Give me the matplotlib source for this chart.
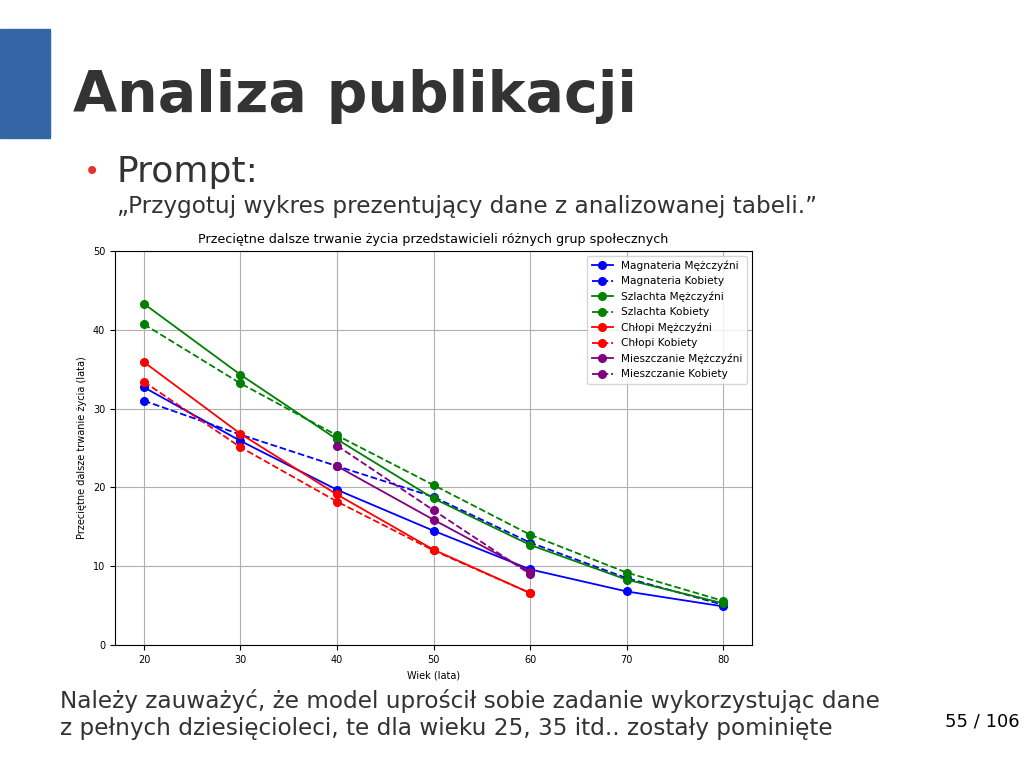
import matplotlib.pyplot as plt
from matplotlib.patches import Rectangle

# Data
ages = [20, 30, 40, 50, 60, 70, 80]
ages_short = [20, 30, 40, 50, 60]
ages_mieszcz = [40, 50, 60]

magnateria_m = [32.7, 25.9, 19.7, 14.5, 9.6, 6.8, 4.9]
magnateria_k = [31.0, 26.7, 22.7, 18.8, 13.0, 8.5, 5.1]
szlachta_m = [43.3, 34.3, 26.1, 18.6, 12.7, 8.3, 5.3]
szlachta_k = [40.7, 33.2, 26.6, 20.3, 14.0, 9.2, 5.6]
chlopi_m = [35.9, 26.8, 19.1, 12.1, 6.6]
chlopi_k = [33.4, 25.1, 18.2, 12.0, 6.6]
mieszczanie_m = [22.7, 15.9, 9.3]
mieszczanie_k = [25.3, 17.1, 9.0]

fig = plt.figure(figsize=(10.24, 7.68), dpi=100)

# slide decorations
fig.patches.append(Rectangle((0, 1 - 138 / 768), 50 / 1024, 109 / 768,
                             transform=fig.transFigure, color="#3465a4"))
fig.text(73 / 1024, 1 - 96 / 768, "Analiza publikacji", fontsize=41, fontweight="bold",
         color="#333333", va="center", ha="left")
fig.text(84 / 1024, 1 - 172 / 768, "•", fontsize=20, color="#e8302f", va="center")
fig.text(117 / 1024, 1 - 172 / 768, "Prompt:", fontsize=26, color="#333333", va="center")
fig.text(117 / 1024, 1 - 206 / 768, "„Przygotuj wykres prezentujący dane z analizowanej tabeli.”",
         fontsize=16.7, color="#333333", va="center")
fig.text(60 / 1024, 1 - 701 / 768,
         "Należy zauważyć, że model uprościł sobie zadanie wykorzystując dane",
         fontsize=16.7, color="#333333", va="center")
fig.text(60 / 1024, 1 - 729 / 768,
         "z pełnych dziesięcioleci, te dla wieku 25, 35 itd.. zostały pominięte",
         fontsize=16.7, color="#333333", va="center")
fig.text(945 / 1024, 1 - 721 / 768, "55 / 106", fontsize=13, color="black", va="center")

ax = fig.add_axes([115 / 1024, 1 - 645 / 768, 637 / 1024, 394 / 768])
lw, ms = 1.3, 5.5
ax.plot(ages, magnateria_m, "o-", color="blue", lw=lw, ms=ms, label="Magnateria Mężczyźni")
ax.plot(ages, magnateria_k, "o--", color="blue", lw=lw, ms=ms, label="Magnateria Kobiety")
ax.plot(ages, szlachta_m, "o-", color="green", lw=lw, ms=ms, label="Szlachta Mężczyźni")
ax.plot(ages, szlachta_k, "o--", color="green", lw=lw, ms=ms, label="Szlachta Kobiety")
ax.plot(ages_short, chlopi_m, "o-", color="red", lw=lw, ms=ms, label="Chłopi Mężczyźni")
ax.plot(ages_short, chlopi_k, "o--", color="red", lw=lw, ms=ms, label="Chłopi Kobiety")
ax.plot(ages_mieszcz, mieszczanie_m, "o-", color="purple", lw=lw, ms=ms, label="Mieszczanie Mężczyźni")
ax.plot(ages_mieszcz, mieszczanie_k, "o--", color="purple", lw=lw, ms=ms, label="Mieszczanie Kobiety")

ax.set_xlim(17, 83)
ax.set_ylim(0, 50)
ax.set_xticks([20, 30, 40, 50, 60, 70, 80])
ax.set_yticks([0, 10, 20, 30, 40, 50])
ax.tick_params(labelsize=7)
ax.set_title("Przeciętne dalsze trwanie życia przedstawicieli różnych grup społecznych", fontsize=9.2)
ax.set_xlabel("Wiek (lata)", fontsize=7)
ax.set_ylabel("Przeciętne dalsze trwanie życia (lata)", fontsize=7)
ax.grid(True)
ax.legend(loc="upper right", fontsize=7.6)

plt.savefig("out.png", dpi=100)
